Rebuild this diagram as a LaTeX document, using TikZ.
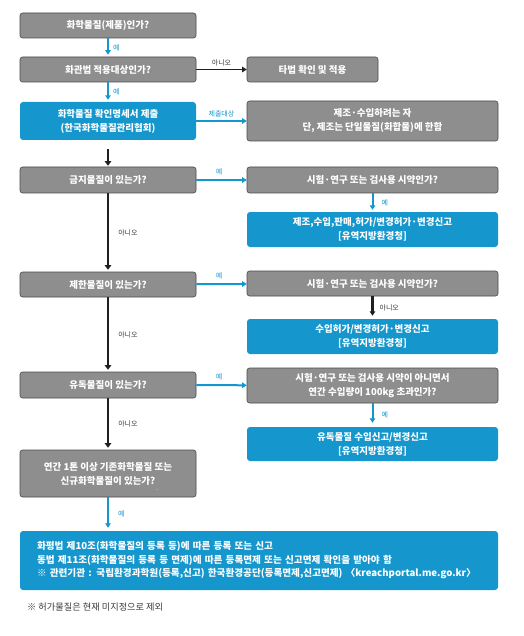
\documentclass[tikz,border=0pt]{standalone}
\usepackage{fontspec}
\setmainfont{Noto Sans CJK KR}
\usepackage{xcolor}
\usepackage{tikz}
\usetikzlibrary{arrows.meta}
\definecolor{boxgray}{HTML}{8E8E8E}
\definecolor{edgegray}{HTML}{4A4A4A}
\definecolor{cyan}{HTML}{1597CD}
\definecolor{ink}{HTML}{231F20}
\definecolor{muted}{HTML}{3A3A3A}
\tikzset{
  gbox/.style={draw=edgegray, fill=boxgray, line width=0.6pt, rounded corners=2.5pt,
    text=white, font=\fontsize{9.5}{14}\selectfont\bfseries, align=center, inner sep=0pt},
  bbox/.style={fill=cyan, rounded corners=3pt,
    text=white, font=\fontsize{9.5}{14}\selectfont\bfseries, align=center, inner sep=0pt},
  lbox/.style={minimum width=176pt},
  rbox/.style={minimum width=251pt},
  barrow/.style={draw=ink, line width=2.6pt, -{Triangle[length=4.5pt,width=6.5pt]}},
  tarrow/.style={draw=ink, line width=1.8pt, -{Triangle[length=4.5pt,width=5.5pt]}},
  carrow/.style={draw=cyan, line width=2pt, -{Triangle[length=4.5pt,width=5.5pt]}},
  lbl/.style={text=cyan, font=\fontsize{7}{8}\selectfont, inner sep=1pt},
  mlabel/.style={text=muted, font=\fontsize{7}{8}\selectfont, inner sep=1pt}
}
\begin{document}
\begin{tikzpicture}[x=1pt, y=-1pt]
  \useasboundingbox (0,0) rectangle (523,636);

  % left column
  \node[gbox, lbox, minimum height=25pt] (q1) at (108,25.5) {화학물질(제품)인가?};
  \node[gbox, lbox, minimum height=25pt] (q2) at (108,69.5) {화관법 적용대상인가?};
  \node[bbox, lbox, minimum height=38pt] (sub) at (108,121) {화학물질 확인명세서 제출\\(한국화학물질관리협회)};
  \node[gbox, lbox, minimum height=26pt] (ban) at (108,180) {금지물질이 있는가?};
  \node[gbox, lbox, minimum height=25pt] (lim) at (108,284.5) {제한물질이 있는가?};
  \node[gbox, lbox, minimum height=26pt] (tox) at (108,385) {유독물질이 있는가?};
  \node[gbox, lbox, minimum height=47pt] (annual) at (108,473.5) {연간 1톤 이상 기존화학물질 또는\\신규화학물질이 있는가?};
  \node[text=white, font=\fontsize{7}{7}\selectfont, inner sep=0pt] (speck) at (157,490) {.};

  % right column
  \node[gbox, minimum width=131pt, minimum height=25pt] (other) at (312.5,69.5) {타법 확인 및 적용};
  \node[gbox, rbox, minimum height=40pt] (maker) at (372.5,121) {제조·수입하려는 자\\단, 제조는 단일물질(화합물)에 한함};
  \node[gbox, rbox, minimum height=26pt] (bantest) at (372.5,180) {시험·연구 또는 검사용 시약인가?};
  \node[bbox, rbox, minimum height=35pt] (banres) at (372.5,229.5) {제조,수입,판매,허가/변경허가·변경신고\\{[}유역지방환경청{]}};
  \node[gbox, rbox, minimum height=25pt] (limtest) at (372.5,283.5) {시험·연구 또는 검사용 시약인가?};
  \node[bbox, rbox, minimum height=35pt] (limres) at (372.5,336.5) {수입허가/변경허가·변경신고\\{[}유역지방환경청{]}};
  \node[gbox, rbox, minimum height=35pt] (toxtest) at (372.5,385.5) {시험·연구 또는 검사용 시약이 아니면서\\연간 수입량이 100kg 초과인가?};
  \node[bbox, rbox, minimum height=34pt] (toxres) at (372.5,444) {유독물질 수입신고/변경신고\\{[}유역지방환경청{]}};

  % bottom
  \node[bbox, minimum width=478pt, minimum height=59pt, align=left, text width=444pt,
    font=\fontsize{9.6}{13.5}\selectfont\bfseries] (reg) at (259,560.5) {화평법 제10조(화학물질의 등록 등)에 따른 등록 또는 신고\\동법 제11조(화학물질의 등록 등 면제)에 따른 등록면제 또는 신고면제 확인을 받아야 함\\※ 관련기관 : 국립환경과학원(등록,신고) 한국환경공단(등록면제,신고면제) 〈kreachportal.me.go.kr〉};
  \node[mlabel, anchor=west, font=\fontsize{9.2}{10}\selectfont] (note) at (26,607) {※ 허가물질은 현재 미지정으로 제외};

  % connectors
  \draw[carrow, shorten >=2pt] (q1) -- (q2) node[lbl, midway, right=3pt]{예};
  \draw[tarrow] (q2) -- (other) node[mlabel, midway, above=2pt]{아니오};
  \draw[carrow, shorten >=2pt] (q2) -- (sub) node[lbl, midway, right=3pt]{예};
  \draw[carrow] (sub) -- (maker) node[lbl, midway, above=2pt]{제출대상};
  \draw[barrow, shorten <=9pt, shorten >=1pt] (sub) -- (ban);
  \draw[carrow] (ban) -- (bantest) node[lbl, pos=0.45, above=3pt]{예};
  \draw[carrow, shorten >=2pt] (bantest) -- (banres) node[lbl, midway, right=7pt]{예};
  \draw[barrow, shorten >=2pt] (ban) -- (lim) node[mlabel, midway, right=8pt]{아니오};
  \draw[carrow] (lim) -- (limtest) node[lbl, pos=0.45, above=3pt]{예};
  \draw[tarrow, line width=2.2pt, shorten >=3pt] (limtest) -- (limres) node[mlabel, midway, right=5pt]{아니오};
  \draw[barrow, shorten >=2pt] (lim) -- (tox) node[mlabel, midway, right=8pt]{아니오};
  \draw[carrow] (tox) -- (toxtest) node[lbl, pos=0.45, above=3pt]{예};
  \draw[carrow, shorten >=4pt] (toxtest) -- (toxres) node[lbl, midway, right=7pt]{예};
  \draw[barrow, shorten >=2pt] (tox) -- (annual) node[mlabel, midway, right=8pt]{아니오};
  \draw[carrow, line width=2.4pt, shorten >=3pt] (annual) -- (annual |- reg.north) node[lbl, midway, right=8pt]{예};
\end{tikzpicture}
\end{document}
